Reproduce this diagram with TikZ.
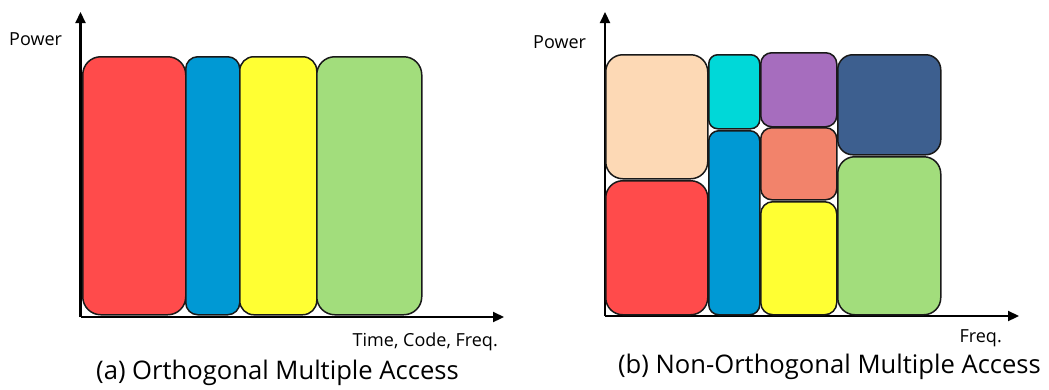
\documentclass[tikz,border=0pt]{standalone}
\usepackage{fontspec}
\setmainfont{Open Sans}
\usetikzlibrary{arrows.meta}
\definecolor{cRed}{RGB}{255,75,75}
\definecolor{cBlue}{RGB}{0,153,212}
\definecolor{cYel}{RGB}{255,255,51}
\definecolor{cGreen}{RGB}{162,221,124}
\definecolor{cPeach}{RGB}{253,217,181}
\definecolor{cCyan}{RGB}{0,216,216}
\definecolor{cPurp}{RGB}{166,109,190}
\definecolor{cSalm}{RGB}{242,131,107}
\definecolor{cNavy}{RGB}{61,95,143}
\begin{document}
\begin{tikzpicture}[x=1pt,y=-1pt,
  blk/.style={draw=black!90,line width=1.5pt,inner sep=0pt,anchor=north west},
  axis/.style={line width=2.2pt,-{Triangle[length=11pt,width=10pt]}},
  axlbl/.style={font=\fontsize{18}{20}\selectfont,inner sep=0pt},
  captxt/.style={font=\fontsize{25.6}{28}\selectfont,inner sep=0pt}]
\useasboundingbox (0,0) rectangle (1049,389);
% ---------- (a) ----------
\coordinate (oA) at (80.5,317);
\coordinate (yA) at (80.5,12);
\coordinate (xA) at (504,317);
\draw[axis] (oA) -- (yA);
\draw[axis] (oA) -- (xA);
\node[blk,fill=cRed,rounded corners=18pt,minimum width=103pt,minimum height=258pt] (aRed) at (82,56) {};
\node[blk,fill=cBlue,rounded corners=12pt,minimum width=54pt,minimum height=258pt] (aBlue) at (185,56) {};
\node[blk,fill=cYel,rounded corners=14pt,minimum width=77pt,minimum height=258pt] (aYel) at (239,56) {};
\node[blk,fill=cGreen,rounded corners=18pt,minimum width=105pt,minimum height=258pt] (aGreen) at (316,56) {};
\node[axlbl,anchor=west] (aPow) at (9,39) {Power};
\node[axlbl,anchor=east] (aX) at (498,342) {Time, Code, Freq.};
\node[captxt] (aCap) at (277.5,373) {(a) Orthogonal Multiple Access};
% ---------- (b) ----------
\coordinate (oB) at (605,316);
\coordinate (yB) at (605,12);
\coordinate (xB) at (1019,316);
\draw[axis] (oB) -- (yB);
\draw[axis] (oB) -- (xB);
\node[blk,fill=cPeach,rounded corners=17pt,minimum width=102pt,minimum height=124pt] (bPeach) at (605,54) {};
\node[blk,fill=cRed,rounded corners=17pt,minimum width=102pt,minimum height=134pt] (bRed) at (605,180) {};
\node[blk,fill=cCyan,rounded corners=9pt,minimum width=51pt,minimum height=74pt] (bCyan) at (708,54) {};
\node[blk,fill=cBlue,rounded corners=10pt,minimum width=51pt,minimum height=184pt] (bBlue) at (708,130) {};
\node[blk,fill=cPurp,rounded corners=11pt,minimum width=76pt,minimum height=74pt] (bPurp) at (760,52) {};
\node[blk,fill=cSalm,rounded corners=11pt,minimum width=76pt,minimum height=72pt] (bSalm) at (760,127) {};
\node[blk,fill=cYel,rounded corners=12pt,minimum width=76pt,minimum height=113pt] (bYel) at (760,201) {};
\node[blk,fill=cNavy,rounded corners=15pt,minimum width=103pt,minimum height=100pt] (bNavy) at (837,54) {};
\node[blk,fill=cGreen,rounded corners=17pt,minimum width=103pt,minimum height=158pt] (bGreen) at (837,156) {};
\node[axlbl,anchor=west] (bPow) at (533,42) {Power};
\node[axlbl,anchor=east] (bX) at (1002,338) {Freq.};
\node[captxt] (bCap) at (829.5,367) {(b) Non-Orthogonal Multiple Access};
\end{tikzpicture}
\end{document}
